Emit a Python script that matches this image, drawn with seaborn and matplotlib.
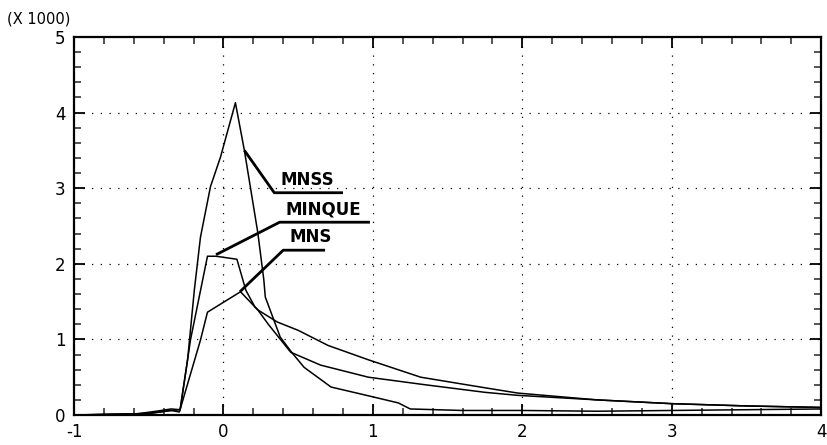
import numpy as np
import pandas as pd
import matplotlib
matplotlib.use("Agg")
import matplotlib.pyplot as plt
from matplotlib.ticker import MultipleLocator
import seaborn as sns

# ---- data (values in thousands) ----
mnss_x = [-1.0, -0.6, -0.45, -0.35, -0.29, -0.24, -0.195, -0.154, -0.087, -0.02, 0.08,
          0.14, 0.23, 0.27, 0.28, 0.38, 0.46, 0.54, 0.72, 1.0, 1.17, 1.25, 1.6, 2.0,
          2.5, 3.0, 3.5, 4.0]
mnss_y = [0.0, 0.01, 0.05, 0.08, 0.07, 0.73, 1.65, 2.35, 3.02, 3.41, 4.13,
          3.5, 2.41, 1.79, 1.56, 1.03, 0.82, 0.63, 0.37, 0.24, 0.16, 0.08, 0.06, 0.06,
          0.05, 0.06, 0.07, 0.08]

minque_x = [-1.0, -0.5, -0.35, -0.29, -0.22, -0.107, -0.05, 0.09, 0.15, 0.21, 0.23,
            0.3, 0.45, 0.65, 0.97, 1.35, 1.75, 1.97, 2.5, 3.0, 3.5, 4.0]
minque_y = [0.0, 0.02, 0.06, 0.07, 1.0, 2.1, 2.1, 2.06, 1.65, 1.43, 1.39,
            1.2, 0.83, 0.66, 0.5, 0.4, 0.3, 0.26, 0.2, 0.15, 0.12, 0.1]

mns_x = [-1.0, -0.5, -0.35, -0.295, -0.154, -0.107, 0.114, 0.23, 0.36, 0.5, 0.54,
         0.70, 0.97, 1.32, 1.75, 1.97, 2.5, 3.0, 3.5, 4.0]
mns_y = [0.0, 0.02, 0.06, 0.04, 0.99, 1.36, 1.63, 1.39, 1.23, 1.12, 1.08,
         0.92, 0.73, 0.5, 0.36, 0.29, 0.2, 0.15, 0.12, 0.1]

labels = ["MNSS", "MINQUE", "MNS"]
# leader: point on curve -> start of underline, underline end
label_point = [(0.14, 3.5), (-0.05, 2.12), (0.11, 1.63)]
label_anchor = [(0.34, 2.94), (0.376, 2.55), (0.40, 2.18)]
label_end = [0.80, 0.98, 0.68]

x_ticks = [-1, 0, 1, 2, 3, 4]
y_ticks = [0, 1, 2, 3, 4, 5]

sns.set_style("ticks")
plt.rcParams['font.family'] = ['DejaVu Sans']

fig = plt.figure(figsize=(8.27, 4.45), dpi=100)
ax = fig.add_axes([0.0895, 0.0674, 0.9035, 0.8495])

series = [(mnss_x, mnss_y, "MNSS"), (minque_x, minque_y, "MINQUE"), (mns_x, mns_y, "MNS")]
for xs, ys, name in series:
    df = pd.DataFrame({"x": xs, "y": ys})
    sns.lineplot(data=df, x="x", y="y", ax=ax, color="black", linewidth=1.1,
                 sort=False, estimator=None)

# labels with leaders and underlines
for lab, p, a, e in zip(labels, label_point, label_anchor, label_end):
    ax.plot([p[0], a[0], e], [p[1], a[1], a[1]], color="black", linewidth=2.0,
            solid_capstyle="butt")
    ax.text(a[0] + 0.04, a[1] + 0.05, lab, fontsize=12, fontweight="bold",
            ha="left", va="bottom", color="black")

ax.set_xlim(-1, 4)
ax.set_ylim(0, 5)
ax.set_xticks(x_ticks)
ax.set_yticks(y_ticks)
ax.set_xticklabels([str(v) for v in x_ticks])
ax.set_yticklabels([str(v) for v in y_ticks])
ax.xaxis.set_minor_locator(MultipleLocator(0.2))
ax.yaxis.set_minor_locator(MultipleLocator(0.2))
ax.tick_params(which="major", direction="in", length=8, width=1.3, top=True, right=True,
               labelsize=12, pad=6, colors="black")
ax.tick_params(which="minor", direction="in", length=5, width=1.1, top=True, right=True)
ax.set_xlabel("")
ax.set_ylabel("")
for s in ax.spines.values():
    s.set_linewidth(1.6)
    s.set_color("black")

for v in [0, 1, 2, 3]:
    ax.axvline(v, color="black", linewidth=0.9, linestyle=(0, (1, 6)), zorder=0)
for v in [1, 2, 3, 4]:
    ax.axhline(v, color="black", linewidth=0.9, linestyle=(0, (1, 6)), zorder=0)

fig.text(0.008, 0.958, "(X 1000)", fontsize=10.5, ha="left", va="center", color="black")

fig.savefig("out.png", dpi=100)
